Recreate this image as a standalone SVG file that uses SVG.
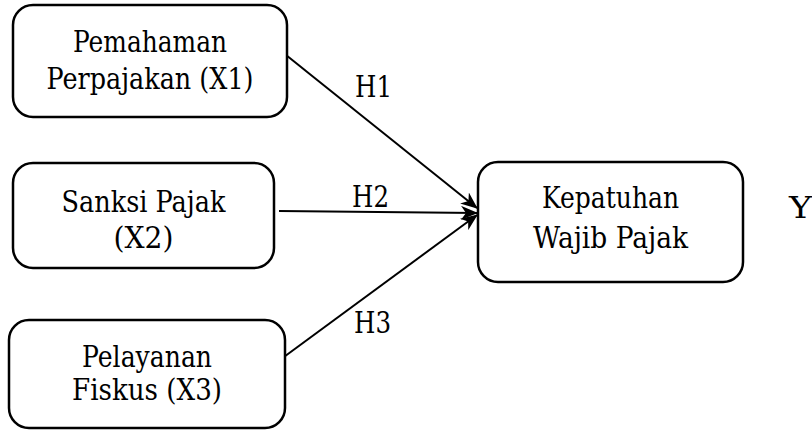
<svg xmlns="http://www.w3.org/2000/svg" width="812" height="430" viewBox="0 0 812 430">
<style>
.box{fill:#fff;stroke:#000;stroke-width:2.5}
text{font-family:'DejaVu Serif',serif;font-size:30px;fill:#000}
.t{text-anchor:middle}
.ln{stroke:#000;stroke-width:2;fill:none;marker-end:url(#ah)}
</style>
<defs>
<marker id="ah" markerUnits="userSpaceOnUse" markerWidth="18" markerHeight="14" refX="16" refY="7" orient="auto" viewBox="0 0 18 14">
<path d="M0,0 L17,7 L0,14 L5,7 z" fill="#000"/>
</marker>
</defs>
<g id="connectors">
<line class="ln" x1="281" y1="51" x2="477" y2="208"/>
<line class="ln" x1="279" y1="211" x2="477" y2="213"/>
<line class="ln" x1="273" y1="365" x2="477" y2="215"/>
<text x="355" y="97" textLength="37" lengthAdjust="spacingAndGlyphs">H1</text>
<text x="352" y="207" textLength="37" lengthAdjust="spacingAndGlyphs">H2</text>
<text x="354" y="333" textLength="37" lengthAdjust="spacingAndGlyphs">H3</text>
</g>
<g id="x1">
<rect class="box" x="13" y="5" width="274" height="112" rx="20"/>
<text class="t" x="150" y="52" textLength="154" lengthAdjust="spacingAndGlyphs">Pemahaman</text>
<text class="t" x="150" y="89" textLength="207" lengthAdjust="spacingAndGlyphs">Perpajakan (X1)</text>
</g>
<g id="x2">
<rect class="box" x="13" y="163" width="261" height="105" rx="20"/>
<text class="t" x="143.5" y="211.5" textLength="164" lengthAdjust="spacingAndGlyphs">Sanksi Pajak</text>
<text class="t" x="143.5" y="248" textLength="60" lengthAdjust="spacingAndGlyphs">(X2)</text>
</g>
<g id="x3">
<rect class="box" x="9" y="320" width="276" height="108" rx="20"/>
<text class="t" x="147" y="367" textLength="130" lengthAdjust="spacingAndGlyphs">Pelayanan</text>
<text class="t" x="147" y="400" textLength="150" lengthAdjust="spacingAndGlyphs">Fiskus (X3)</text>
</g>
<g id="y">
<rect class="box" x="478" y="162" width="265" height="120" rx="20"/>
<text class="t" x="610.5" y="208" textLength="137" lengthAdjust="spacingAndGlyphs">Kepatuhan</text>
<text class="t" x="610.5" y="248" textLength="155" lengthAdjust="spacingAndGlyphs">Wajib Pajak</text>
</g>
<g id="ylabel">
<text x="789" y="218" textLength="23" lengthAdjust="spacingAndGlyphs">Y</text>
</g>
</svg>
